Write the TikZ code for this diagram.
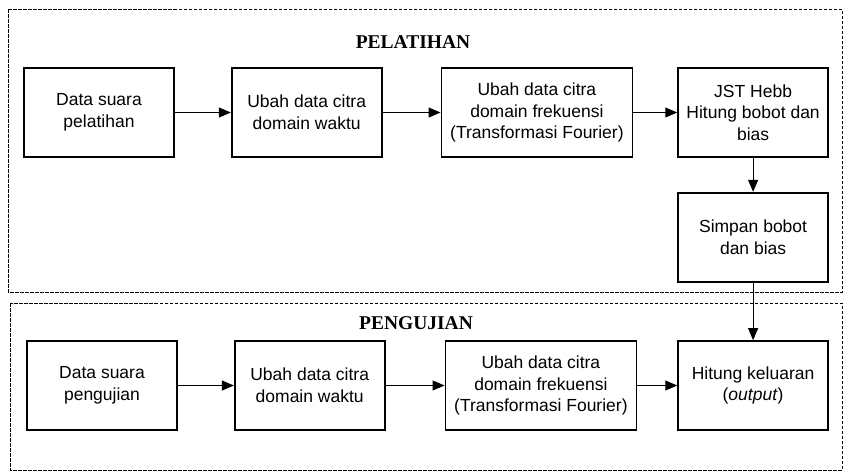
\documentclass[tikz,border=0pt]{standalone}
\usepackage{fontspec}
\setmainfont{Liberation Sans}
\newfontfamily\headfont{Liberation Serif}
\usetikzlibrary{arrows.meta,positioning}

\begin{document}
\begin{tikzpicture}[x=1pt,y=-1pt,font=\fontsize{17.5}{21.7}\selectfont,>=Triangle,
  box/.style={draw,line width=1.7pt,minimum height=89pt,align=center,inner sep=2pt},
  wide/.style={box,minimum width=150pt},
  wider/.style={box,minimum width=191pt},
  flow/.style={-{Triangle[length=12pt,width=10pt]},line width=1pt},
  area/.style={draw,line width=1pt,dash pattern=on 3.5pt off 1.5pt},
  head/.style={font=\headfont\bfseries\fontsize{19.5}{22}\selectfont}]
\useasboundingbox (0,0) rectangle (843,472);
% the two phases
\draw[area] (8,9) rectangle (842,292);
\draw[area] (10,303) rectangle (842,470);

% training
\node[head] (trainhead) at (413,42) {PELATIHAN};
\node[wide] (trainin) at (99,112.5) {Data suara\\pelatihan};
\node[wide,right=56pt of trainin] (traintime) {Ubah data citra\\domain waktu};
\node[wider,right=58pt of traintime] (trainfreq) {Ubah data citra\\domain frekuensi\\(Transformasi Fourier)};
\node[wide,right=44pt of trainfreq] (hebb) {JST Hebb\\Hitung bobot dan\\bias};
\node[wide,below=34pt of hebb] (store) {Simpan bobot\\dan bias};
\draw[flow] (trainin) -- (traintime); \draw[flow] (traintime) -- (trainfreq);
\draw[flow] (trainfreq) -- (hebb); \draw[flow] (hebb) -- (store);

% testing
\node[head] (testhead) at (416,323) {PENGUJIAN};
\node[wide] (testin) at (102,385.5) {Data suara\\pengujian};
\node[wide,right=56pt of testin] (testtime) {Ubah data citra\\domain waktu};
\node[wider,right=59pt of testtime] (testfreq) {Ubah data citra\\domain frekuensi\\(Transformasi Fourier)};
\node[wide,right=40pt of testfreq] (output) {Hitung keluaran\\(\textit{output})};
\draw[flow] (testin) -- (testtime); \draw[flow] (testtime) -- (testfreq);
\draw[flow] (testfreq) -- (output); \draw[flow] (store) -- (output);
\end{tikzpicture}
\end{document}
